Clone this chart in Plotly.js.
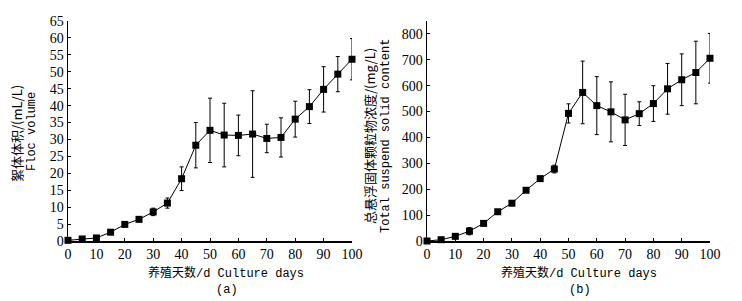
<!DOCTYPE html>
<html><head><meta charset="utf-8">
<script src="https://cdn.plot.ly/plotly-3.0.1.min.js"></script>
<style>html,body{margin:0;padding:0;background:#fff;}</style>
</head><body>
<div id="chart" style="width:742px;height:301px;"></div>
<script>
const days = [0,5,10,15,20,25,30,35,40,45,50,55,60,65,70,75,80,85,90,95,100];
const flocVolume = [0.2,0.6,0.9,2.6,4.9,6.4,8.6,11.2,18.4,28.3,32.7,31.3,31.2,31.6,30.3,30.6,36.0,39.7,44.8,49.3,53.7];
const flocErr = [0,0.2,0.3,0.5,0.4,0.5,1.1,1.5,3.5,6.7,9.5,9.4,6.0,12.8,4.2,5.8,5.3,5.0,6.7,5.2,6.1];
const tss = [0,5,18,38,68,113,146,196,241,278,493,574,523,499,468,492,531,588,623,651,706];
const tssErr = [0,2,5,14,5,5,5,5,5,15,37,121,112,116,99,46,69,98,100,121,96];
const xTicks = [0,10,20,30,40,50,60,70,80,90,100];
const yTicksA = [0,5,10,15,20,25,30,35,40,45,50,55,60,65];
const yTicksB = [0,100,200,300,400,500,600,700,800];

const cjk = "Noto Sans CJK SC";
const mono = "Liberation Mono, DejaVu Sans Mono, Noto Sans CJK SC, monospace";
const tickFont = {family:"Liberation Serif", size:14, color:"#000"};

function series(x, y, e, xa, ya) {
  return {x:x, y:y, xaxis:xa, yaxis:ya, type:"scatter", mode:"lines+markers",
    line:{color:"#000", width:1}, marker:{symbol:"square", size:7, color:"#000"},
    error_y:{type:"data", array:e, visible:true, color:"#000", thickness:1, width:2},
    cliponaxis:false, showlegend:false};
}
const axisBase = {showline:true, linecolor:"#000", linewidth:1.5, ticks:"inside", ticklen:3,
  tickcolor:"#000", showgrid:false, zeroline:false, tickfont:tickFont, fixedrange:true};

function ann(text, px, py, font, angle) {
  return {text:text, x:px/742, y:1-py/301, xref:"paper", yref:"paper", xanchor:"center", yanchor:"middle",
    textangle:angle||0, showarrow:false, font:font};
}
const cjkFont = {family:cjk, size:13, color:"#000"};
const monoFont = {family:mono, size:12, color:"#000"};

const layout = {
  width:742, height:301, margin:{l:0,r:0,t:0,b:0}, paper_bgcolor:"#fff", plot_bgcolor:"#fff",
  xaxis: Object.assign({}, axisBase, {domain:[68/742, 352/742], range:[0,100], tickvals:xTicks, anchor:"y"}),
  yaxis: Object.assign({}, axisBase, {domain:[1-241/301, 1-21/301], range:[0,65], tickvals:yTicksA, anchor:"x"}),
  xaxis2: Object.assign({}, axisBase, {domain:[427/742, 710/742], range:[0,100], tickvals:xTicks, anchor:"y2"}),
  yaxis2: Object.assign({}, axisBase, {domain:[1-241/301, 1-21/301], range:[0,850], tickvals:yTicksB, anchor:"x2"}),
  annotations: [
    ann("絮体体积/(mL/L)", 16, 134, cjkFont, -90),
    ann("Floc volume", 32, 132, monoFont, -90),
    ann("总悬浮固体颗粒物浓度/(mg/L)", 369, 136, cjkFont, -90),
    ann("Total suspend solid content", 386, 136, monoFont, -90),
    ann("养殖天数/d Culture days", 226, 273, monoFont),
    ann("(a)", 227, 290, monoFont),
    ann("养殖天数/d Culture days", 579, 273, monoFont),
    ann("(b)", 580, 290, monoFont)
  ]
};
Plotly.newPlot("chart", [series(days, flocVolume, flocErr, "x", "y"), series(days, tss, tssErr, "x2", "y2")], layout, {staticPlot:true, displayModeBar:false});
</script>
</body></html>
